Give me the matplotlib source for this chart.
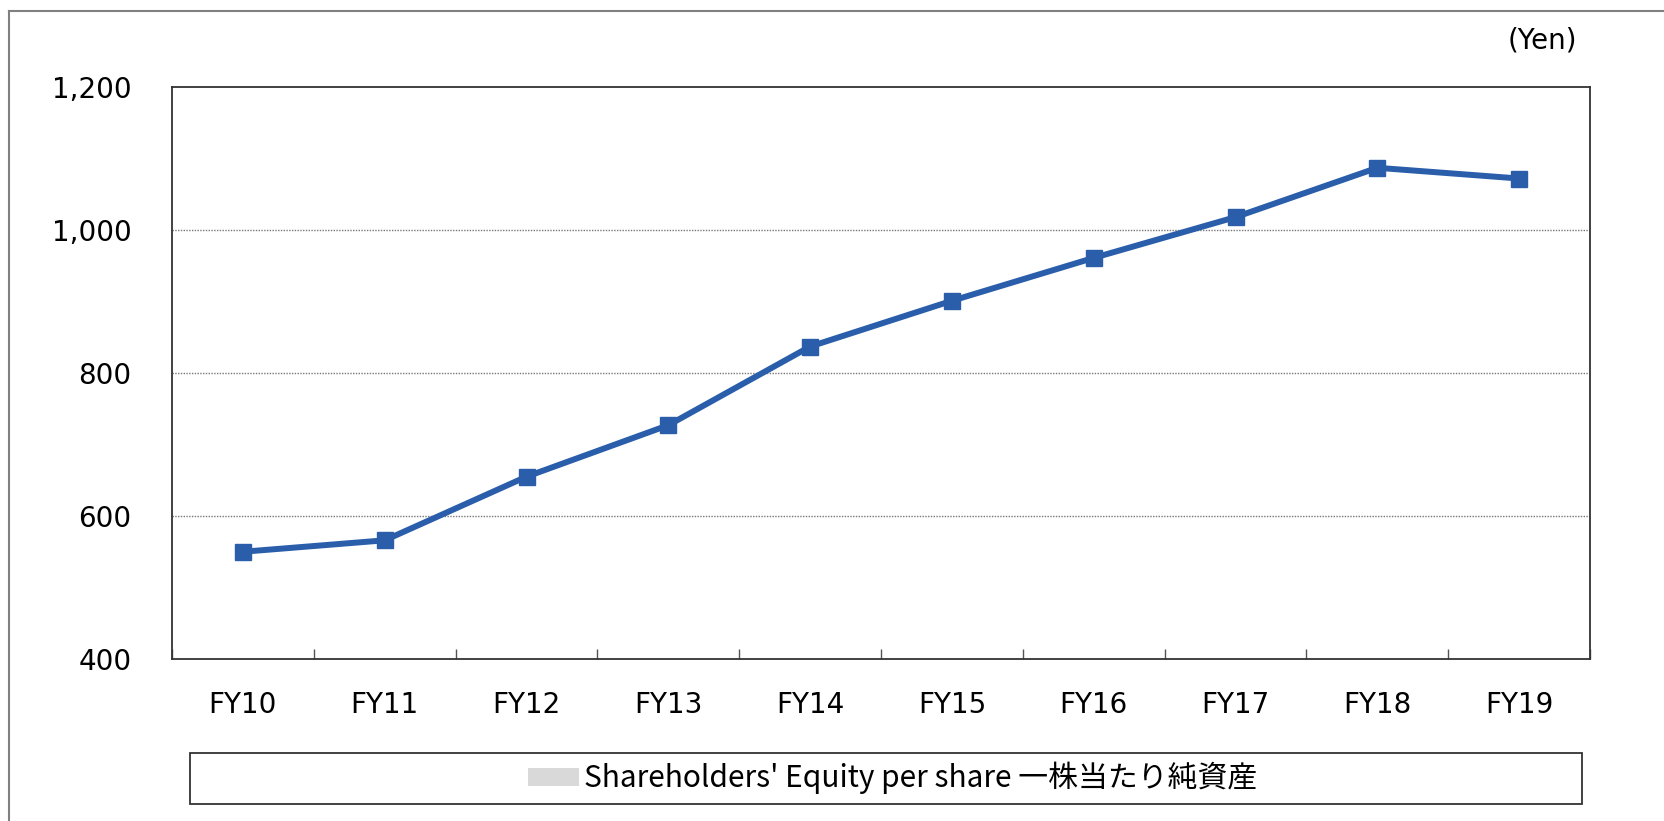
import matplotlib
import matplotlib.pyplot as plt
import matplotlib.patches as mpatches
from matplotlib.font_manager import FontProperties
from matplotlib.lines import Line2D
import numpy as np

# bundled DejaVu Sans, closest to the Verdana-like labels
dv_path = matplotlib.get_data_path() + '/fonts/ttf/DejaVuSans.ttf'
dv = FontProperties(fname=dv_path, size=20)

# data
years = ["FY10", "FY11", "FY12", "FY13", "FY14", "FY15", "FY16", "FY17", "FY18", "FY19"]
equity = [550, 566, 655, 727, 837, 901, 961, 1018, 1087, 1072]
yticks = [400, 600, 800, 1000, 1200]
legend_label = "Shareholders' Equity per share 一株当たり純資産"

W, H = 1665, 821
fig = plt.figure(figsize=(W / 100, H / 100), dpi=100)

# plot area in pixels: left 172, top 87, right 1590, bottom 659
ax = fig.add_axes([172 / W, 1 - 659 / H, (1590 - 172) / W, (659 - 87) / H])

x = np.arange(len(years))
ax.plot(x, equity, color='#2a5eab', lw=4.3, marker='s', ms=11,
        solid_joinstyle='round', zorder=3)

ax.set_xlim(-0.5, len(years) - 0.5)
ax.set_ylim(yticks[0], yticks[-1])
ax.set_yticks(yticks)
ax.set_yticklabels([f"{v:,}" for v in yticks], fontproperties=dv)
ax.tick_params(axis='y', length=0, pad=29)

ax.set_xticks(x)
ax.set_xticklabels(years, fontproperties=dv)
ax.tick_params(axis='x', which='major', length=0, pad=23)
ax.set_xticks(np.arange(-0.5, len(years), 1.0), minor=True)
ax.tick_params(axis='x', which='minor', direction='in', length=7, width=1, color='#555555')

for v in yticks[1:-1]:
    ax.axhline(v, color='#777777', lw=1, ls=(0, (1, 1)), zorder=1)

for s in ax.spines.values():
    s.set_color('#333333')
    s.set_linewidth(1.3)

fig.text(1577 / W, 1 - 40 / H, "(Yen)", ha='right', va='center', fontproperties=dv)

# legend box
lx0, ly0, lx1, ly1 = 190, 753, 1582, 804
fig.patches.append(mpatches.Rectangle((lx0 / W, 1 - ly1 / H), (lx1 - lx0) / W, (ly1 - ly0) / H,
                                      transform=fig.transFigure, fill=False,
                                      edgecolor='#333333', lw=1.3))
fig.patches.append(mpatches.Rectangle((528 / W, 1 - 786 / H), 51 / W, 18 / H,
                                      transform=fig.transFigure, facecolor='#d9d9d9',
                                      edgecolor='none'))
fig.text(584 / W, 1 - 778 / H, legend_label, fontsize=21.5, ha='left', va='center',
         family=['Noto Sans CJK JP', 'DejaVu Sans'])

# outer frame (left and top edges)
fig.add_artist(Line2D([9 / W, 9 / W], [0, 1 - 11 / H], transform=fig.transFigure,
                      color='#808080', lw=1.5))
fig.add_artist(Line2D([9 / W, 1], [1 - 11 / H, 1 - 11 / H], transform=fig.transFigure,
                      color='#808080', lw=1.5))

fig.savefig("out.png", dpi=100)
